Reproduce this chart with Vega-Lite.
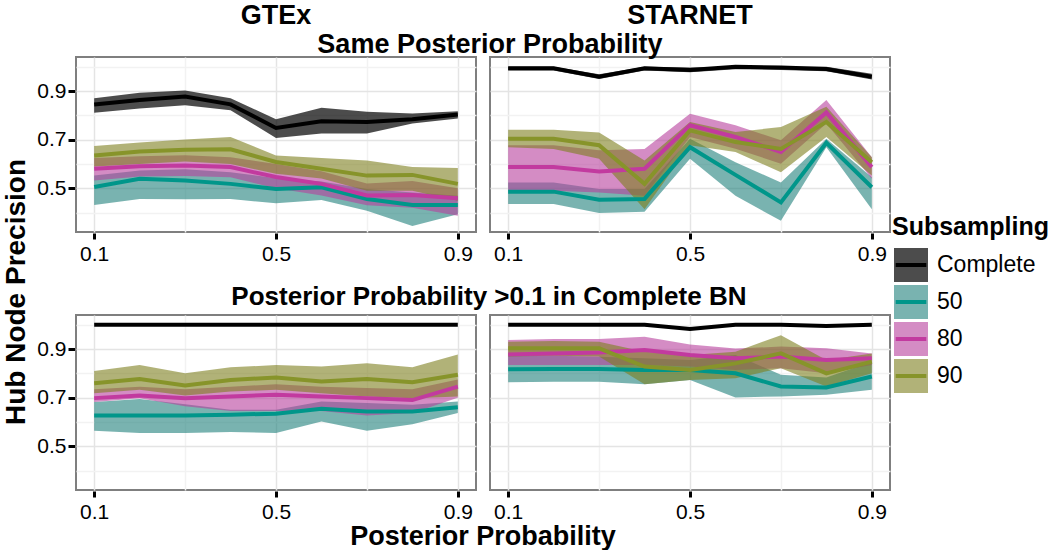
{
  "$schema": "https://vega.github.io/schema/vega-lite/v6.json",
  "background": "white",
  "padding": {"left": 2, "top": 2, "right": 0, "bottom": 0},
  "datasets": {
    "pts": [
      {"d":"GTEx","c":"same","g":"Complete","p":0.1,"m":0.845,"lo":0.811,"hi":0.870},
      {"d":"GTEx","c":"same","g":"Complete","p":0.2,"m":0.863,"lo":0.828,"hi":0.893},
      {"d":"GTEx","c":"same","g":"Complete","p":0.3,"m":0.877,"lo":0.842,"hi":0.902},
      {"d":"GTEx","c":"same","g":"Complete","p":0.4,"m":0.845,"lo":0.821,"hi":0.870},
      {"d":"GTEx","c":"same","g":"Complete","p":0.5,"m":0.748,"lo":0.707,"hi":0.784},
      {"d":"GTEx","c":"same","g":"Complete","p":0.6,"m":0.776,"lo":0.725,"hi":0.831},
      {"d":"GTEx","c":"same","g":"Complete","p":0.7,"m":0.773,"lo":0.725,"hi":0.815},
      {"d":"GTEx","c":"same","g":"Complete","p":0.8,"m":0.784,"lo":0.766,"hi":0.808},
      {"d":"GTEx","c":"same","g":"Complete","p":0.9,"m":0.803,"lo":0.787,"hi":0.817},
      {"d":"GTEx","c":"same","g":"50","p":0.1,"m":0.505,"lo":0.431,"hi":0.552},
      {"d":"GTEx","c":"same","g":"50","p":0.2,"m":0.539,"lo":0.456,"hi":0.573},
      {"d":"GTEx","c":"same","g":"50","p":0.3,"m":0.532,"lo":0.455,"hi":0.578},
      {"d":"GTEx","c":"same","g":"50","p":0.4,"m":0.518,"lo":0.456,"hi":0.566},
      {"d":"GTEx","c":"same","g":"50","p":0.5,"m":0.497,"lo":0.438,"hi":0.541},
      {"d":"GTEx","c":"same","g":"50","p":0.6,"m":0.504,"lo":0.452,"hi":0.528},
      {"d":"GTEx","c":"same","g":"50","p":0.7,"m":0.456,"lo":0.407,"hi":0.497},
      {"d":"GTEx","c":"same","g":"50","p":0.8,"m":0.431,"lo":0.345,"hi":0.483},
      {"d":"GTEx","c":"same","g":"50","p":0.9,"m":0.431,"lo":0.393,"hi":0.469},
      {"d":"GTEx","c":"same","g":"80","p":0.1,"m":0.580,"lo":0.532,"hi":0.624},
      {"d":"GTEx","c":"same","g":"80","p":0.2,"m":0.591,"lo":0.548,"hi":0.632},
      {"d":"GTEx","c":"same","g":"80","p":0.3,"m":0.594,"lo":0.550,"hi":0.636},
      {"d":"GTEx","c":"same","g":"80","p":0.4,"m":0.587,"lo":0.545,"hi":0.628},
      {"d":"GTEx","c":"same","g":"80","p":0.5,"m":0.546,"lo":0.500,"hi":0.600},
      {"d":"GTEx","c":"same","g":"80","p":0.6,"m":0.518,"lo":0.470,"hi":0.570},
      {"d":"GTEx","c":"same","g":"80","p":0.7,"m":0.470,"lo":0.430,"hi":0.520},
      {"d":"GTEx","c":"same","g":"80","p":0.8,"m":0.472,"lo":0.420,"hi":0.530},
      {"d":"GTEx","c":"same","g":"80","p":0.9,"m":0.459,"lo":0.387,"hi":0.500},
      {"d":"GTEx","c":"same","g":"90","p":0.1,"m":0.635,"lo":0.590,"hi":0.674},
      {"d":"GTEx","c":"same","g":"90","p":0.2,"m":0.651,"lo":0.600,"hi":0.688},
      {"d":"GTEx","c":"same","g":"90","p":0.3,"m":0.658,"lo":0.610,"hi":0.701},
      {"d":"GTEx","c":"same","g":"90","p":0.4,"m":0.660,"lo":0.600,"hi":0.711},
      {"d":"GTEx","c":"same","g":"90","p":0.5,"m":0.608,"lo":0.560,"hi":0.635},
      {"d":"GTEx","c":"same","g":"90","p":0.6,"m":0.580,"lo":0.540,"hi":0.624},
      {"d":"GTEx","c":"same","g":"90","p":0.7,"m":0.552,"lo":0.490,"hi":0.614},
      {"d":"GTEx","c":"same","g":"90","p":0.8,"m":0.555,"lo":0.490,"hi":0.587},
      {"d":"GTEx","c":"same","g":"90","p":0.9,"m":0.518,"lo":0.449,"hi":0.583},

      {"d":"STARNET","c":"same","g":"Complete","p":0.1,"m":0.994,"lo":0.984,"hi":1.0},
      {"d":"STARNET","c":"same","g":"Complete","p":0.2,"m":0.994,"lo":0.984,"hi":1.0},
      {"d":"STARNET","c":"same","g":"Complete","p":0.3,"m":0.959,"lo":0.949,"hi":0.969},
      {"d":"STARNET","c":"same","g":"Complete","p":0.4,"m":0.994,"lo":0.984,"hi":1.0},
      {"d":"STARNET","c":"same","g":"Complete","p":0.5,"m":0.987,"lo":0.977,"hi":0.997},
      {"d":"STARNET","c":"same","g":"Complete","p":0.6,"m":1.0,"lo":0.990,"hi":1.0},
      {"d":"STARNET","c":"same","g":"Complete","p":0.7,"m":0.997,"lo":0.987,"hi":1.0},
      {"d":"STARNET","c":"same","g":"Complete","p":0.8,"m":0.991,"lo":0.981,"hi":1.0},
      {"d":"STARNET","c":"same","g":"Complete","p":0.9,"m":0.959,"lo":0.947,"hi":0.971},
      {"d":"STARNET","c":"same","g":"50","p":0.1,"m":0.486,"lo":0.435,"hi":0.524},
      {"d":"STARNET","c":"same","g":"50","p":0.2,"m":0.486,"lo":0.435,"hi":0.524},
      {"d":"STARNET","c":"same","g":"50","p":0.3,"m":0.453,"lo":0.398,"hi":0.497},
      {"d":"STARNET","c":"same","g":"50","p":0.4,"m":0.456,"lo":0.403,"hi":0.497},
      {"d":"STARNET","c":"same","g":"50","p":0.5,"m":0.669,"lo":0.621,"hi":0.704},
      {"d":"STARNET","c":"same","g":"50","p":0.6,"m":0.555,"lo":0.469,"hi":0.607},
      {"d":"STARNET","c":"same","g":"50","p":0.7,"m":0.442,"lo":0.366,"hi":0.524},
      {"d":"STARNET","c":"same","g":"50","p":0.8,"m":0.687,"lo":0.669,"hi":0.704},
      {"d":"STARNET","c":"same","g":"50","p":0.9,"m":0.504,"lo":0.414,"hi":0.545},
      {"d":"STARNET","c":"same","g":"80","p":0.1,"m":0.587,"lo":0.490,"hi":0.677},
      {"d":"STARNET","c":"same","g":"80","p":0.2,"m":0.587,"lo":0.490,"hi":0.677},
      {"d":"STARNET","c":"same","g":"80","p":0.3,"m":0.569,"lo":0.483,"hi":0.656},
      {"d":"STARNET","c":"same","g":"80","p":0.4,"m":0.580,"lo":0.469,"hi":0.662},
      {"d":"STARNET","c":"same","g":"80","p":0.5,"m":0.759,"lo":0.711,"hi":0.807},
      {"d":"STARNET","c":"same","g":"80","p":0.6,"m":0.711,"lo":0.663,"hi":0.759},
      {"d":"STARNET","c":"same","g":"80","p":0.7,"m":0.649,"lo":0.601,"hi":0.697},
      {"d":"STARNET","c":"same","g":"80","p":0.8,"m":0.812,"lo":0.766,"hi":0.863},
      {"d":"STARNET","c":"same","g":"80","p":0.9,"m":0.587,"lo":0.539,"hi":0.628},
      {"d":"STARNET","c":"same","g":"90","p":0.1,"m":0.704,"lo":0.669,"hi":0.741},
      {"d":"STARNET","c":"same","g":"90","p":0.2,"m":0.704,"lo":0.662,"hi":0.741},
      {"d":"STARNET","c":"same","g":"90","p":0.3,"m":0.677,"lo":0.621,"hi":0.729},
      {"d":"STARNET","c":"same","g":"90","p":0.4,"m":0.518,"lo":0.414,"hi":0.614},
      {"d":"STARNET","c":"same","g":"90","p":0.5,"m":0.738,"lo":0.677,"hi":0.773},
      {"d":"STARNET","c":"same","g":"90","p":0.6,"m":0.690,"lo":0.649,"hi":0.731},
      {"d":"STARNET","c":"same","g":"90","p":0.7,"m":0.662,"lo":0.566,"hi":0.752},
      {"d":"STARNET","c":"same","g":"90","p":0.8,"m":0.773,"lo":0.711,"hi":0.835},
      {"d":"STARNET","c":"same","g":"90","p":0.9,"m":0.607,"lo":0.552,"hi":0.628},

      {"d":"GTEx","c":"gt","g":"Complete","p":0.1,"m":1.0,"lo":1.0,"hi":1.0},
      {"d":"GTEx","c":"gt","g":"Complete","p":0.2,"m":1.0,"lo":1.0,"hi":1.0},
      {"d":"GTEx","c":"gt","g":"Complete","p":0.3,"m":1.0,"lo":1.0,"hi":1.0},
      {"d":"GTEx","c":"gt","g":"Complete","p":0.4,"m":1.0,"lo":1.0,"hi":1.0},
      {"d":"GTEx","c":"gt","g":"Complete","p":0.5,"m":1.0,"lo":1.0,"hi":1.0},
      {"d":"GTEx","c":"gt","g":"Complete","p":0.6,"m":1.0,"lo":1.0,"hi":1.0},
      {"d":"GTEx","c":"gt","g":"Complete","p":0.7,"m":1.0,"lo":1.0,"hi":1.0},
      {"d":"GTEx","c":"gt","g":"Complete","p":0.8,"m":1.0,"lo":1.0,"hi":1.0},
      {"d":"GTEx","c":"gt","g":"Complete","p":0.9,"m":1.0,"lo":1.0,"hi":1.0},
      {"d":"GTEx","c":"gt","g":"50","p":0.1,"m":0.627,"lo":0.564,"hi":0.682},
      {"d":"GTEx","c":"gt","g":"50","p":0.2,"m":0.627,"lo":0.555,"hi":0.694},
      {"d":"GTEx","c":"gt","g":"50","p":0.3,"m":0.627,"lo":0.555,"hi":0.673},
      {"d":"GTEx","c":"gt","g":"50","p":0.4,"m":0.630,"lo":0.559,"hi":0.650},
      {"d":"GTEx","c":"gt","g":"50","p":0.5,"m":0.634,"lo":0.555,"hi":0.650},
      {"d":"GTEx","c":"gt","g":"50","p":0.6,"m":0.654,"lo":0.602,"hi":0.684},
      {"d":"GTEx","c":"gt","g":"50","p":0.7,"m":0.643,"lo":0.564,"hi":0.678},
      {"d":"GTEx","c":"gt","g":"50","p":0.8,"m":0.643,"lo":0.591,"hi":0.671},
      {"d":"GTEx","c":"gt","g":"50","p":0.9,"m":0.660,"lo":0.637,"hi":0.684},
      {"d":"GTEx","c":"gt","g":"80","p":0.1,"m":0.698,"lo":0.682,"hi":0.735},
      {"d":"GTEx","c":"gt","g":"80","p":0.2,"m":0.709,"lo":0.698,"hi":0.745},
      {"d":"GTEx","c":"gt","g":"80","p":0.3,"m":0.698,"lo":0.665,"hi":0.735},
      {"d":"GTEx","c":"gt","g":"80","p":0.4,"m":0.705,"lo":0.645,"hi":0.745},
      {"d":"GTEx","c":"gt","g":"80","p":0.5,"m":0.712,"lo":0.645,"hi":0.755},
      {"d":"GTEx","c":"gt","g":"80","p":0.6,"m":0.705,"lo":0.645,"hi":0.745},
      {"d":"GTEx","c":"gt","g":"80","p":0.7,"m":0.698,"lo":0.627,"hi":0.740},
      {"d":"GTEx","c":"gt","g":"80","p":0.8,"m":0.690,"lo":0.637,"hi":0.735},
      {"d":"GTEx","c":"gt","g":"80","p":0.9,"m":0.745,"lo":0.700,"hi":0.775},
      {"d":"GTEx","c":"gt","g":"90","p":0.1,"m":0.759,"lo":0.718,"hi":0.810},
      {"d":"GTEx","c":"gt","g":"90","p":0.2,"m":0.777,"lo":0.732,"hi":0.834},
      {"d":"GTEx","c":"gt","g":"90","p":0.3,"m":0.750,"lo":0.709,"hi":0.800},
      {"d":"GTEx","c":"gt","g":"90","p":0.4,"m":0.773,"lo":0.725,"hi":0.825},
      {"d":"GTEx","c":"gt","g":"90","p":0.5,"m":0.783,"lo":0.732,"hi":0.834},
      {"d":"GTEx","c":"gt","g":"90","p":0.6,"m":0.766,"lo":0.718,"hi":0.828},
      {"d":"GTEx","c":"gt","g":"90","p":0.7,"m":0.777,"lo":0.705,"hi":0.841},
      {"d":"GTEx","c":"gt","g":"90","p":0.8,"m":0.763,"lo":0.698,"hi":0.825},
      {"d":"GTEx","c":"gt","g":"90","p":0.9,"m":0.794,"lo":0.705,"hi":0.878},

      {"d":"STARNET","c":"gt","g":"Complete","p":0.1,"m":1.0,"lo":1.0,"hi":1.0},
      {"d":"STARNET","c":"gt","g":"Complete","p":0.2,"m":1.0,"lo":1.0,"hi":1.0},
      {"d":"STARNET","c":"gt","g":"Complete","p":0.3,"m":1.0,"lo":1.0,"hi":1.0},
      {"d":"STARNET","c":"gt","g":"Complete","p":0.4,"m":1.0,"lo":1.0,"hi":1.0},
      {"d":"STARNET","c":"gt","g":"Complete","p":0.5,"m":0.982,"lo":0.982,"hi":0.982},
      {"d":"STARNET","c":"gt","g":"Complete","p":0.6,"m":1.0,"lo":1.0,"hi":1.0},
      {"d":"STARNET","c":"gt","g":"Complete","p":0.7,"m":1.0,"lo":1.0,"hi":1.0},
      {"d":"STARNET","c":"gt","g":"Complete","p":0.8,"m":0.995,"lo":0.995,"hi":0.995},
      {"d":"STARNET","c":"gt","g":"Complete","p":0.9,"m":1.0,"lo":1.0,"hi":1.0},
      {"d":"STARNET","c":"gt","g":"50","p":0.1,"m":0.817,"lo":0.763,"hi":0.871},
      {"d":"STARNET","c":"gt","g":"50","p":0.2,"m":0.818,"lo":0.765,"hi":0.872},
      {"d":"STARNET","c":"gt","g":"50","p":0.3,"m":0.818,"lo":0.765,"hi":0.868},
      {"d":"STARNET","c":"gt","g":"50","p":0.4,"m":0.814,"lo":0.755,"hi":0.862},
      {"d":"STARNET","c":"gt","g":"50","p":0.5,"m":0.814,"lo":0.773,"hi":0.855},
      {"d":"STARNET","c":"gt","g":"50","p":0.6,"m":0.800,"lo":0.701,"hi":0.875},
      {"d":"STARNET","c":"gt","g":"50","p":0.7,"m":0.746,"lo":0.705,"hi":0.794},
      {"d":"STARNET","c":"gt","g":"50","p":0.8,"m":0.742,"lo":0.712,"hi":0.783},
      {"d":"STARNET","c":"gt","g":"50","p":0.9,"m":0.787,"lo":0.732,"hi":0.848},
      {"d":"STARNET","c":"gt","g":"80","p":0.1,"m":0.878,"lo":0.834,"hi":0.937},
      {"d":"STARNET","c":"gt","g":"80","p":0.2,"m":0.882,"lo":0.834,"hi":0.941},
      {"d":"STARNET","c":"gt","g":"80","p":0.3,"m":0.886,"lo":0.834,"hi":0.941},
      {"d":"STARNET","c":"gt","g":"80","p":0.4,"m":0.896,"lo":0.834,"hi":0.951},
      {"d":"STARNET","c":"gt","g":"80","p":0.5,"m":0.875,"lo":0.828,"hi":0.919},
      {"d":"STARNET","c":"gt","g":"80","p":0.6,"m":0.862,"lo":0.814,"hi":0.902},
      {"d":"STARNET","c":"gt","g":"80","p":0.7,"m":0.869,"lo":0.821,"hi":0.910},
      {"d":"STARNET","c":"gt","g":"80","p":0.8,"m":0.855,"lo":0.800,"hi":0.903},
      {"d":"STARNET","c":"gt","g":"80","p":0.9,"m":0.862,"lo":0.834,"hi":0.882},
      {"d":"STARNET","c":"gt","g":"90","p":0.1,"m":0.903,"lo":0.869,"hi":0.930},
      {"d":"STARNET","c":"gt","g":"90","p":0.2,"m":0.903,"lo":0.872,"hi":0.933},
      {"d":"STARNET","c":"gt","g":"90","p":0.3,"m":0.903,"lo":0.869,"hi":0.930},
      {"d":"STARNET","c":"gt","g":"90","p":0.4,"m":0.828,"lo":0.755,"hi":0.889},
      {"d":"STARNET","c":"gt","g":"90","p":0.5,"m":0.814,"lo":0.773,"hi":0.875},
      {"d":"STARNET","c":"gt","g":"90","p":0.6,"m":0.841,"lo":0.780,"hi":0.889},
      {"d":"STARNET","c":"gt","g":"90","p":0.7,"m":0.882,"lo":0.821,"hi":0.957},
      {"d":"STARNET","c":"gt","g":"90","p":0.8,"m":0.800,"lo":0.746,"hi":0.855},
      {"d":"STARNET","c":"gt","g":"90","p":0.9,"m":0.848,"lo":0.800,"hi":0.882}
    ]
  },
  "title": {"text": "Hub Node Precision", "orient": "left", "offset": 6, "anchor": "middle", "fontSize": 28, "dx": -16},
  "spacing": 20,
  "vconcat": [
    {
      "data": {"name": "pts"},
      "transform": [{"filter": "datum.c === 'same'"}],
      "title": {"text": "Same Posterior Probability", "dy": 61, "dx": 26, "anchor": "middle"},
      "facet": {
        "column": {
          "field": "d", "type": "nominal", "title": null, "sort": ["GTEx", "STARNET"],
          "header": {"labelFontSize": 27, "labelFontWeight": "bold", "labelPadding": 26, "labelColor": "black", "labelFont": "Liberation Sans"}
        }
      },
      "spacing": {"column": 12},
      "spec": {
        "width": 400, "height": 175,
        "layer": [
          {
            "mark": {"type": "area", "fillOpacity": 1, "opacity": 1},
            "encoding": {
              "x": {"field": "p", "type": "quantitative", "scale": {"domain": [0.06, 0.94], "nice": false, "zero": false},
                "axis": {"title": null, "values": [0.1, 0.3, 0.5, 0.7, 0.9],
                  "labelExpr": "(datum.value == 0.3 || datum.value == 0.7) ? '' : format(datum.value, '.1f')",
                  "tickOpacity": {"condition": {"test": "datum.value == 0.3 || datum.value == 0.7", "value": 0}, "value": 1},
                  "gridColor": {"condition": {"test": "datum.value == 0.3 || datum.value == 0.7", "value": "#f2f2f2"}, "value": "#e4e4e4"}}},
              "y": {"field": "lo", "type": "quantitative", "scale": {"domain": [0.32, 1.04], "nice": false, "zero": false},
                "axis": {"title": null, "values": [0.4, 0.5, 0.6, 0.7, 0.8, 0.9, 1.0],
                  "labelExpr": "(datum.value == 0.5 || datum.value == 0.7 || datum.value == 0.9) ? format(datum.value, '.1f') : ''",
                  "tickOpacity": {"condition": {"test": "datum.value == 0.5 || datum.value == 0.7 || datum.value == 0.9", "value": 1}, "value": 0},
                  "gridColor": {"condition": {"test": "datum.value == 0.5 || datum.value == 0.7 || datum.value == 0.9", "value": "#e4e4e4"}, "value": "#f2f2f2"}}},
              "y2": {"field": "hi"},
              "fill": {"field": "g", "type": "nominal",
                "scale": {"domain": ["Complete", "50", "80", "90"], "range": ["rgba(0,0,0,0.7)", "rgba(32,128,123,0.6)", "rgba(183,63,157,0.6)", "rgba(125,127,30,0.6)"]},
                "legend": {"title": "Subsampling", "orient": "none", "legendX": 816, "legendY": 158, "clipHeight": 34,
                  "symbolType": "M-0.9,0L1,0L1,1L-1,1L-1,-1L1,-1L1,0Z", "symbolSize": 1156, "symbolStrokeWidth": 4, "symbolDash": [30.6, 300]}}
            }
          },
          {
            "mark": {"type": "line", "strokeWidth": 4},
            "encoding": {
              "x": {"field": "p", "type": "quantitative", "scale": {"domain": [0.06, 0.94], "nice": false, "zero": false}, "axis": {"title": null, "values": [0.1, 0.3, 0.5, 0.7, 0.9],
                  "labelExpr": "(datum.value == 0.3 || datum.value == 0.7) ? '' : format(datum.value, '.1f')",
                  "tickOpacity": {"condition": {"test": "datum.value == 0.3 || datum.value == 0.7", "value": 0}, "value": 1},
                  "gridColor": {"condition": {"test": "datum.value == 0.3 || datum.value == 0.7", "value": "#f2f2f2"}, "value": "#e4e4e4"}}},
              "y": {"field": "m", "type": "quantitative", "scale": {"domain": [0.32, 1.04], "nice": false, "zero": false}, "axis": {"title": null, "values": [0.4, 0.5, 0.6, 0.7, 0.8, 0.9, 1.0],
                  "labelExpr": "(datum.value == 0.5 || datum.value == 0.7 || datum.value == 0.9) ? format(datum.value, '.1f') : ''",
                  "tickOpacity": {"condition": {"test": "datum.value == 0.5 || datum.value == 0.7 || datum.value == 0.9", "value": 1}, "value": 0},
                  "gridColor": {"condition": {"test": "datum.value == 0.5 || datum.value == 0.7 || datum.value == 0.9", "value": "#e4e4e4"}, "value": "#f2f2f2"}}},
              "stroke": {"field": "g", "type": "nominal",
                "scale": {"domain": ["Complete", "50", "80", "90"], "range": ["#000000", "#00968a", "#c23a9f", "#87942a"]},
                "legend": {"title": "Subsampling", "orient": "none", "legendX": 816, "legendY": 158, "clipHeight": 34,
                  "symbolType": "M-0.9,0L1,0L1,1L-1,1L-1,-1L1,-1L1,0Z", "symbolSize": 1156, "symbolStrokeWidth": 4, "symbolDash": [30.6, 300]}}
            }
          }
        ]
      }
    },
    {
      "data": {"name": "pts"},
      "transform": [{"filter": "datum.c === 'gt'"}],
      "title": {"text": "Posterior Probability >0.1 in Complete BN", "dx": 25, "anchor": "middle", "fontSize": 26},
      "facet": {
        "column": {
          "field": "d", "type": "nominal", "title": "Posterior Probability", "sort": ["GTEx", "STARNET"],
          "header": {"labels": false, "titleOrient": "bottom", "titleFontSize": 27, "titleFontWeight": "bold", "titleColor": "black", "titleFont": "Liberation Sans", "titlePadding": -8}
        }
      },
      "spacing": {"column": 12},
      "spec": {
        "width": 400, "height": 175,
        "layer": [
          {
            "mark": {"type": "area", "fillOpacity": 1, "opacity": 1},
            "encoding": {
              "x": {"field": "p", "type": "quantitative", "scale": {"domain": [0.06, 0.94], "nice": false, "zero": false},
                "axis": {"title": null, "values": [0.1, 0.3, 0.5, 0.7, 0.9],
                  "labelExpr": "(datum.value == 0.3 || datum.value == 0.7) ? '' : format(datum.value, '.1f')",
                  "tickOpacity": {"condition": {"test": "datum.value == 0.3 || datum.value == 0.7", "value": 0}, "value": 1},
                  "gridColor": {"condition": {"test": "datum.value == 0.3 || datum.value == 0.7", "value": "#f2f2f2"}, "value": "#e4e4e4"}}},
              "y": {"field": "lo", "type": "quantitative", "scale": {"domain": [0.32, 1.04], "nice": false, "zero": false},
                "axis": {"title": null, "values": [0.4, 0.5, 0.6, 0.7, 0.8, 0.9, 1.0],
                  "labelExpr": "(datum.value == 0.5 || datum.value == 0.7 || datum.value == 0.9) ? format(datum.value, '.1f') : ''",
                  "tickOpacity": {"condition": {"test": "datum.value == 0.5 || datum.value == 0.7 || datum.value == 0.9", "value": 1}, "value": 0},
                  "gridColor": {"condition": {"test": "datum.value == 0.5 || datum.value == 0.7 || datum.value == 0.9", "value": "#e4e4e4"}, "value": "#f2f2f2"}}},
              "y2": {"field": "hi"},
              "fill": {"field": "g", "type": "nominal",
                "scale": {"domain": ["Complete", "50", "80", "90"], "range": ["rgba(0,0,0,0.7)", "rgba(32,128,123,0.6)", "rgba(183,63,157,0.6)", "rgba(125,127,30,0.6)"]},
                "legend": {"title": "Subsampling", "orient": "none", "legendX": 816, "legendY": 158, "clipHeight": 34,
                  "symbolType": "M-0.9,0L1,0L1,1L-1,1L-1,-1L1,-1L1,0Z", "symbolSize": 1156, "symbolStrokeWidth": 4, "symbolDash": [30.6, 300]}}
            }
          },
          {
            "mark": {"type": "line", "strokeWidth": 4},
            "encoding": {
              "x": {"field": "p", "type": "quantitative", "scale": {"domain": [0.06, 0.94], "nice": false, "zero": false}, "axis": {"title": null, "values": [0.1, 0.3, 0.5, 0.7, 0.9],
                  "labelExpr": "(datum.value == 0.3 || datum.value == 0.7) ? '' : format(datum.value, '.1f')",
                  "tickOpacity": {"condition": {"test": "datum.value == 0.3 || datum.value == 0.7", "value": 0}, "value": 1},
                  "gridColor": {"condition": {"test": "datum.value == 0.3 || datum.value == 0.7", "value": "#f2f2f2"}, "value": "#e4e4e4"}}},
              "y": {"field": "m", "type": "quantitative", "scale": {"domain": [0.32, 1.04], "nice": false, "zero": false}, "axis": {"title": null, "values": [0.4, 0.5, 0.6, 0.7, 0.8, 0.9, 1.0],
                  "labelExpr": "(datum.value == 0.5 || datum.value == 0.7 || datum.value == 0.9) ? format(datum.value, '.1f') : ''",
                  "tickOpacity": {"condition": {"test": "datum.value == 0.5 || datum.value == 0.7 || datum.value == 0.9", "value": 1}, "value": 0},
                  "gridColor": {"condition": {"test": "datum.value == 0.5 || datum.value == 0.7 || datum.value == 0.9", "value": "#e4e4e4"}, "value": "#f2f2f2"}}},
              "stroke": {"field": "g", "type": "nominal",
                "scale": {"domain": ["Complete", "50", "80", "90"], "range": ["#000000", "#00968a", "#c23a9f", "#87942a"]},
                "legend": {"title": "Subsampling", "orient": "none", "legendX": 816, "legendY": 158, "clipHeight": 34,
                  "symbolType": "M-0.9,0L1,0L1,1L-1,1L-1,-1L1,-1L1,0Z", "symbolSize": 1156, "symbolStrokeWidth": 4, "symbolDash": [30.6, 300]}}
            }
          }
        ]
      }
    }
  ],
  "config": {
    "font": "Liberation Sans",
    "view": {"stroke": "#7f7f7f", "strokeWidth": 2},
    "axis": {"domain": false, "labelFontSize": 21, "labelColor": "black", "tickColor": "black", "tickWidth": 3, "tickSize": 6, "labelFont": "Liberation Sans", "gridWidth": 1.5},
    "axisX": {"labelPadding": 4},
    "axisY": {"tickSize": 7, "labelPadding": 2},
    "title": {"fontSize": 27, "fontWeight": "bold", "color": "black", "font": "Liberation Sans", "offset": 4},
    "legend": {"titleFontSize": 25, "titleFontWeight": "bold", "titleColor": "black", "titleFont": "Liberation Sans", "labelFontSize": 23, "labelColor": "black", "labelFont": "Liberation Sans", "rowPadding": 3, "labelOffset": 7, "titlePadding": 8}
  }
}
